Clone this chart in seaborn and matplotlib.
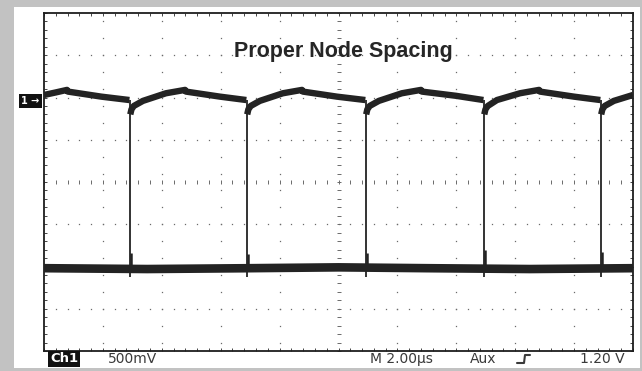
import numpy as np
import pandas as pd
import matplotlib
matplotlib.use("Agg")
import matplotlib.pyplot as plt
import seaborn as sns
from matplotlib.patches import Rectangle
from matplotlib.lines import Line2D

# Scope capture: CH1 500 mV/div, 2.00 us/div, 10 x 8 divisions
# time in us, level in V relative to screen centre
edge_t = [2.92, 6.89, 10.93, 14.94, 18.91]          # falling edges
spike_top = [-0.84, -0.85, -0.84, -0.80, -0.83]      # glitch on low level after each edge

# upper level of the trace, split into sweep segments between edges
top_seg = [0] * 6 + [1] * 9 + [2] * 9 + [3] * 9 + [4] * 9 + [5] * 5
top_t = [0.00, 0.40, 0.78, 0.81, 1.95, 2.90,
         2.93, 2.97, 3.05, 3.36, 4.14, 4.79, 4.82, 5.98, 6.87,
         6.90, 6.94, 7.02, 7.33, 8.11, 8.76, 8.79, 9.95, 10.91,
         10.94, 10.98, 11.06, 11.37, 12.15, 12.80, 12.83, 13.99, 14.92,
         14.95, 14.99, 15.07, 15.38, 16.16, 16.81, 16.84, 18.00, 18.89,
         18.92, 18.96, 19.04, 19.35, 20.00]
top_v = [1.03, 1.06, 1.09, 1.07, 1.01, 0.97,
         0.80, 0.86, 0.90, 0.96, 1.05, 1.09, 1.07, 1.01, 0.97,
         0.80, 0.86, 0.90, 0.96, 1.05, 1.09, 1.07, 1.01, 0.97,
         0.80, 0.86, 0.90, 0.96, 1.05, 1.09, 1.07, 1.02, 0.97,
         0.80, 0.86, 0.90, 0.97, 1.05, 1.09, 1.07, 1.01, 0.97,
         0.80, 0.86, 0.90, 0.96, 1.03]

# lower level
low_t = [0.00, 3.5, 7.0, 10.0, 13.0, 16.5, 20.00]
low_v = [-1.02, -1.03, -1.02, -1.01, -1.02, -1.03, -1.02]

top_df = pd.DataFrame({"t": top_t, "v": top_v, "seg": top_seg})
low_df = pd.DataFrame({"t": low_t, "v": low_v})

W, H = 642, 371
TRACE = "#232323"
DOT = "#6a6a6a"


def px(x, y):
    return x / W, 1 - y / H


sns.set_theme(style="white")
plt.rcParams["font.family"] = ["DejaVu Sans"]

fig = plt.figure(figsize=(W / 100, H / 100), dpi=100)
fig.patch.set_facecolor("#c2c2c2")
fig.add_artist(Rectangle(px(14, 368), 626 / W, 361 / H, transform=fig.transFigure,
                         facecolor="white", edgecolor="none", zorder=0))

ax = fig.add_axes([44 / W, 1 - 351 / H, 589 / W, 338 / H])
ax.set_facecolor("white")
ax.set_xlim(0, 20)
ax.set_ylim(-2, 2)

# graticule
minor_x = np.arange(0, 20.001, 0.4)
minor_y = np.arange(-2, 2.001, 0.1)
dot_y = np.arange(-1.9, 2.0, 0.2)
for gx in [2, 4, 6, 8, 12, 14, 16, 18]:
    ax.plot([gx] * len(dot_y), dot_y, ls="none", marker="s", ms=0.9, mew=0, color=DOT, zorder=1)
for gy in [-1.5, -1.0, -0.5, 0.5, 1.0, 1.5]:
    ax.plot(minor_x, [gy] * len(minor_x), ls="none", marker="s", ms=0.9, mew=0, color=DOT, zorder=1)
ax.plot([10] * len(minor_y), minor_y, ls="none", marker="_", ms=3.5, mew=0.7, color=DOT, zorder=1)
ax.plot(minor_x, [0] * len(minor_x), ls="none", marker="|", ms=3.5, mew=0.7, color=DOT, zorder=1)

ax.set_xticks(np.arange(0, 20.1, 2))
ax.set_yticks(np.arange(-2, 2.01, 0.5))
ax.set_xticks(minor_x, minor=True)
ax.set_yticks(minor_y, minor=True)
ax.tick_params(which="both", direction="in", length=2.5, width=0.7, color="#444444",
               top=True, right=True, bottom=True, left=True,
               labelbottom=False, labelleft=False)
for s in ax.spines.values():
    s.set_color("#1e1e1e")
    s.set_linewidth(1.3)

# traces
sns.lineplot(data=low_df, x="t", y="v", color=TRACE, lw=6.2, ax=ax, zorder=3,
             solid_capstyle="butt")
sns.lineplot(data=top_df, x="t", y="v", units="seg", estimator=None, sort=False,
             color=TRACE, lw=4.6, ax=ax, zorder=3, solid_capstyle="butt")
ax.vlines(edge_t, -1.12, 0.97, color=TRACE, lw=1.3, zorder=3)
ax.vlines([t + 0.05 for t in edge_t], -1.02, spike_top, color=TRACE, lw=1.8, zorder=3)
ax.set_xlabel("")
ax.set_ylabel("")

# screen annotations
ax.text(0.508, 1 - (57 - 13) / 338, "Proper Node Spacing", transform=ax.transAxes,
        ha="center", va="baseline", fontsize=15.5, fontweight="bold",
        family=["Liberation Sans"], color="#262626", zorder=5)

fig.text(*px(21, 101), "1 \u2192", ha="left", va="center", fontsize=7, fontweight="bold",
         color="white", bbox=dict(boxstyle="square,pad=0.25", facecolor="#111111", edgecolor="none"))
fig.text(*px(50, 359), "Ch1", ha="left", va="center", fontsize=9.5, fontweight="bold",
         color="white", bbox=dict(boxstyle="square,pad=0.15", facecolor="#111111", edgecolor="none"))

lab = dict(ha="left", va="center", fontsize=10, color="#3a3a3a")
fig.text(*px(108, 359), "500mV", **lab)
fig.text(*px(370, 359), "M 2.00\u00b5s", **lab)
fig.text(*px(470, 359), "Aux", **lab)
fig.text(*px(625, 359), "1.20 V", ha="right", va="center", fontsize=10, color="#3a3a3a")

trig_x = [517, 524, 525, 530]
trig_y = [363, 363, 355, 355]
fig.add_artist(Line2D([x / W for x in trig_x], [1 - y / H for y in trig_y],
                      transform=fig.transFigure, color="#3a3a3a", lw=1.5))

fig.savefig("out.png", dpi=100, facecolor=fig.get_facecolor())
